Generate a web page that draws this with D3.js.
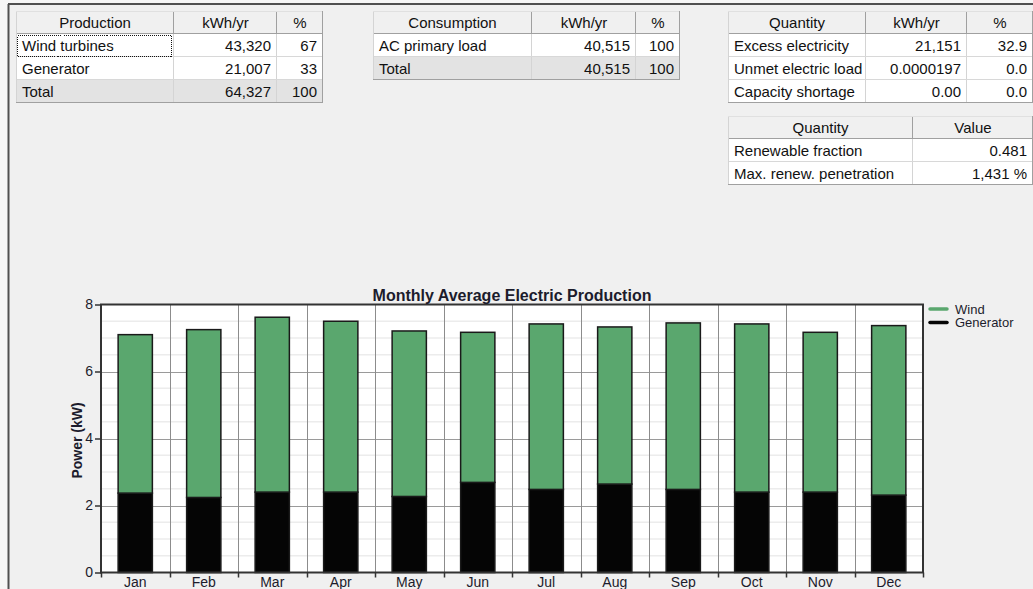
<!DOCTYPE html>
<html>
<head>
<meta charset="utf-8">
<script src="https://cdn.jsdelivr.net/npm/d3@7/dist/d3.min.js"></script>
<style>
  html, body { margin: 0; padding: 0; background: #f0f0f0; }
  svg { display: block; font-family: "Liberation Sans", Arial, sans-serif; }
</style>
</head>
<body>
<svg id="chart" width="1033" height="589"></svg>
<script>
// ---------- Data ----------
const months = ["Jan","Feb","Mar","Apr","May","Jun","Jul","Aug","Sep","Oct","Nov","Dec"];
const generatorKW = [2.37, 2.24, 2.40, 2.40, 2.27, 2.69, 2.48, 2.64, 2.48, 2.40, 2.40, 2.31];
const windKW      = [4.73, 5.01, 5.22, 5.10, 4.94, 4.48, 4.94, 4.69, 4.97, 5.02, 4.77, 5.06];
const seriesNames = ["Wind", "Generator"];
const seriesColors = ["#5aa76e", "#050505"];
const yTicks = [0, 2, 4, 6, 8];
const chartTitle = "Monthly Average Electric Production";
const yAxisLabel = "Power (kW)";

const productionHeader = ["Production", "kWh/yr", "%"];
const productionRows = [["Wind turbines", "43,320", "67"], ["Generator", "21,007", "33"]];
const productionTotal = ["Total", "64,327", "100"];

const consumptionHeader = ["Consumption", "kWh/yr", "%"];
const consumptionRows = [["AC primary load", "40,515", "100"]];
const consumptionTotal = ["Total", "40,515", "100"];

const quantityHeader = ["Quantity", "kWh/yr", "%"];
const quantityRows = [["Excess electricity", "21,151", "32.9"], ["Unmet electric load", "0.0000197", "0.0"], ["Capacity shortage", "0.00", "0.0"]];

const valueHeader = ["Quantity", "Value"];
const valueRows = [["Renewable fraction", "0.481"], ["Max. renew. penetration", "1,431 %"]];

// ---------- Setup ----------
const svg = d3.select("#chart");
svg.append("rect").attr("x", 0).attr("y", 0).attr("width", 1033).attr("height", 589).attr("fill", "#f6f6f6");
svg.append("rect").attr("x", 9).attr("y", 5).attr("width", 1024).attr("height", 584).attr("fill", "#f0f0f0");
svg.append("line").attr("x1", 8).attr("x2", 1033).attr("y1", 4).attr("y2", 4).attr("stroke", "#505050").attr("stroke-width", 2);
svg.append("line").attr("x1", 8.5).attr("x2", 8.5).attr("y1", 4).attr("y2", 589).attr("stroke", "#505050").attr("stroke-width", 2);

// ---------- Tables ----------
function drawTable(cols, top, header, rows, total, rowH) {
  const g = svg.append("g");
  const nCols = cols.length - 1;
  let y = top;
  const allRows = [{cells: header, kind: "header"}]
    .concat(rows.map(r => ({cells: r, kind: "row"})))
    .concat(total ? [{cells: total, kind: "total"}] : []);
  allRows.forEach((row) => {
    for (let c = 0; c < nCols; c++) {
      const x0 = cols[c], x1 = cols[c + 1];
      const fill = row.kind === "header" ? "#f0f0f0" : row.kind === "total" ? "#e3e3e3" : "#ffffff";
      g.append("rect").attr("x", x0).attr("y", y).attr("width", x1 - x0).attr("height", rowH)
        .attr("fill", fill);
      g.append("line").attr("x1", x1 - 0.5).attr("x2", x1 - 0.5).attr("y1", y).attr("y2", y + rowH)
        .attr("stroke", row.kind === "header" ? "#a0a0a0" : "#d4d4d4");
      g.append("line").attr("x1", x0).attr("x2", x1).attr("y1", y + rowH - 0.5).attr("y2", y + rowH - 0.5)
        .attr("stroke", row.kind === "header" ? "#a0a0a0" : "#d8d8d8");
      const t = g.append("text").attr("y", y + 17).attr("font-size", 15).attr("fill", "#111")
        .text(row.cells[c]);
      if (row.kind === "header") {
        t.attr("x", (x0 + x1) / 2).attr("text-anchor", "middle");
      } else if (c === 0) {
        t.attr("x", x0 + 6);
      } else {
        t.attr("x", x1 - 6).attr("text-anchor", "end");
      }
    }
    y += rowH;
  });
  g.append("line").attr("x1", cols[0] + 0.5).attr("x2", cols[0] + 0.5).attr("y1", top).attr("y2", y)
    .attr("stroke", "#d4d4d4");
  g.append("line").attr("x1", cols[0]).attr("x2", cols[nCols]).attr("y1", top + 0.5).attr("y2", top + 0.5)
    .attr("stroke", "#e0e0e0");
  g.append("line").attr("x1", cols[0]).attr("x2", cols[nCols]).attr("y1", y - 0.5).attr("y2", y - 0.5)
    .attr("stroke", "#a0a0a0");
  g.append("line").attr("x1", cols[nCols] - 0.5).attr("x2", cols[nCols] - 0.5).attr("y1", top).attr("y2", y)
    .attr("stroke", "#a0a0a0");
  return g;
}

drawTable([16, 174, 277, 323], 11, productionHeader, productionRows, productionTotal, 23);
drawTable([373, 532, 636, 680], 11, consumptionHeader, consumptionRows, consumptionTotal, 23);
drawTable([728, 866, 967, 1033], 11, quantityHeader, quantityRows, null, 23);
drawTable([728, 913, 1033], 116, valueHeader, valueRows, null, 23);

// focus rect (dotted)
svg.append("rect").attr("x", 17.5).attr("y", 35.5).attr("width", 154).attr("height", 21)
  .attr("fill", "none").attr("stroke", "#111").attr("stroke-width", 1)
  .attr("stroke-dasharray", "1,1").attr("shape-rendering", "crispEdges");

// ---------- Chart ----------
const plot = {left: 101, right: 923, top: 304.5, bottom: 572.5};
const x = d3.scaleBand().domain(months).range([plot.left, plot.right]).paddingInner(0.5).paddingOuter(0.25);
const y = d3.scaleLinear().domain([0, 8]).range([plot.bottom, plot.top]);
const step = x.step();

const cg = svg.append("g");
cg.append("rect").attr("x", plot.left).attr("y", plot.top).attr("width", plot.right - plot.left)
  .attr("height", plot.bottom - plot.top).attr("fill", "#ffffff");

// minor grid
const minor = d3.range(0, 8.001, 0.5).filter(v => v % 2 !== 0);
cg.selectAll(".minor").data(minor).join("line")
  .attr("x1", plot.left).attr("x2", plot.right)
  .attr("y1", d => y(d)).attr("y2", d => y(d))
  .attr("stroke", "#ececec").attr("stroke-width", 1.5);
// major grid
cg.selectAll(".major").data(yTicks.filter(v => v > 0 && v < 8)).join("line")
  .attr("x1", plot.left).attr("x2", plot.right)
  .attr("y1", d => Math.round(y(d)) + 0.5).attr("y2", d => Math.round(y(d)) + 0.5)
  .attr("stroke", "#9a9a9a").attr("stroke-width", 1);
// vertical grid at band boundaries
const bounds = d3.range(1, months.length).map(i => plot.left + i * step);
cg.selectAll(".vgrid").data(bounds).join("line")
  .attr("x1", d => Math.round(d) + 0.5).attr("x2", d => Math.round(d) + 0.5)
  .attr("y1", plot.top).attr("y2", plot.bottom)
  .attr("stroke", "#8c8c8c").attr("stroke-width", 1);

// stacked bars
const stackData = months.map((m, i) => ({month: m, Generator: generatorKW[i], Wind: windKW[i]}));
const stack = d3.stack().keys(["Generator", "Wind"])(stackData);
const color = d3.scaleOrdinal().domain(seriesNames).range(seriesColors);
cg.selectAll(".layer").data(stack).join("g")
  .attr("fill", d => color(d.key))
  .selectAll("rect").data(d => d).join("rect")
  .attr("x", d => x(d.data.month))
  .attr("width", x.bandwidth())
  .attr("y", d => y(d[1]))
  .attr("height", d => y(d[0]) - y(d[1]))
  .attr("stroke", "#1a1a1a").attr("stroke-width", 1.5);

// plot border
cg.append("rect").attr("x", plot.left).attr("y", plot.top).attr("width", plot.right - plot.left)
  .attr("height", plot.bottom - plot.top).attr("fill", "none").attr("stroke", "#333").attr("stroke-width", 2);

// y axis
const yAxis = d3.axisLeft(y).tickValues(yTicks).tickSize(6).tickPadding(2).tickFormat(d3.format("d"));
const yg = svg.append("g").attr("transform", `translate(${plot.left},0)`).call(yAxis);
yg.select(".domain").remove();
yg.selectAll("line").attr("stroke", "#333").attr("stroke-width", 1.5);
yg.selectAll("text").attr("font-size", 14).attr("fill", "#1c1c2c").attr("font-family", "Liberation Sans, Arial, sans-serif");

// x axis labels
const xAxis = d3.axisBottom(x).tickSize(0).tickPadding(5);
const xg = svg.append("g").attr("transform", `translate(0,${plot.bottom})`).call(xAxis);
xg.select(".domain").remove();
xg.selectAll("text").attr("font-size", 14).attr("fill", "#1c1c2c").attr("font-family", "Liberation Sans, Arial, sans-serif");
// x boundary ticks
const allBounds = d3.range(0, months.length + 1).map(i => plot.left + i * step);
svg.selectAll(".xt").data(allBounds).join("line")
  .attr("x1", d => Math.round(d) + 0.5).attr("x2", d => Math.round(d) + 0.5)
  .attr("y1", plot.bottom).attr("y2", plot.bottom + 5)
  .attr("stroke", "#333").attr("stroke-width", 1.5);

// title
svg.append("text").attr("x", (plot.left + plot.right) / 2).attr("y", 300.5)
  .attr("text-anchor", "middle").attr("font-size", 16).attr("font-weight", "bold").attr("fill", "#1c1c2c")
  .text(chartTitle);

// y label
svg.append("text").attr("transform", `translate(82,${(plot.top + plot.bottom) / 2 + 2}) rotate(-90)`)
  .attr("text-anchor", "middle").attr("font-size", 14).attr("font-weight", "bold").attr("fill", "#1c1c2c")
  .text(yAxisLabel);

// legend
const lg = svg.append("g").attr("transform", "translate(929,309)");
seriesNames.forEach((name, i) => {
  const row = lg.append("g").attr("transform", `translate(0,${i * 13.5})`);
  row.append("line").attr("x1", 1).attr("x2", 18).attr("y1", 0).attr("y2", 0)
    .attr("stroke", seriesColors[i]).attr("stroke-width", 3.5).attr("stroke-linecap", "round");
  row.append("text").attr("x", 26).attr("y", 4.5).attr("font-size", 13).attr("fill", "#1c1c2c").text(name);
});
</script>
</body>
</html>
